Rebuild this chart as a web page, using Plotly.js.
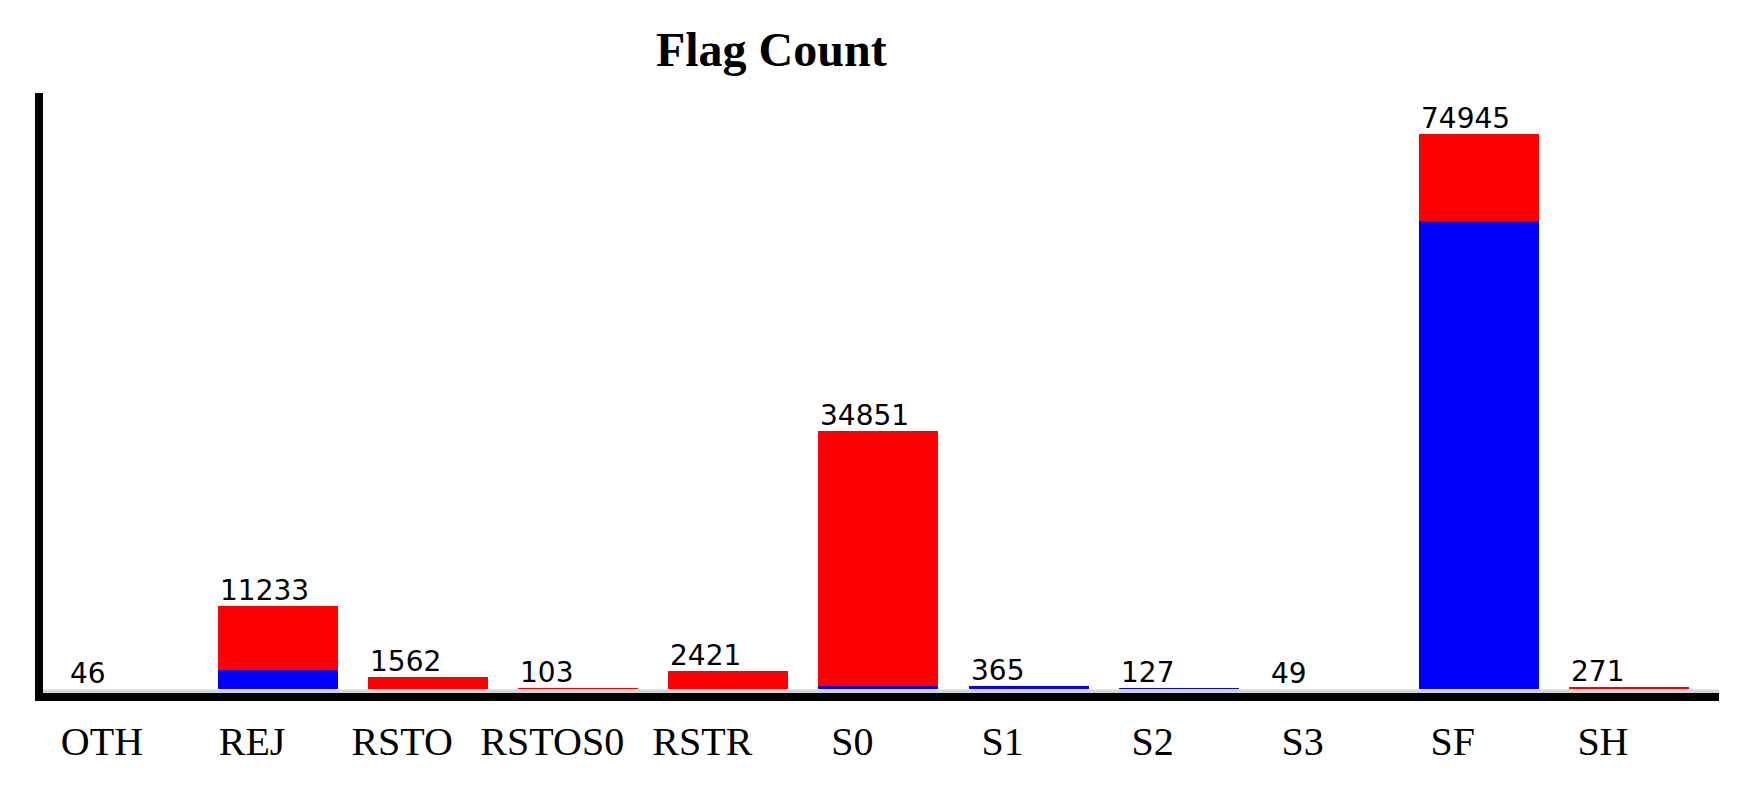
<!DOCTYPE html>
<html><head><meta charset="utf-8">
<script src="https://cdn.plot.ly/plotly-3.0.1.min.js"></script>
<style>html,body{margin:0;padding:0;background:#fff}#chart{width:1749px;height:786px}</style>
</head><body><div id="chart"></div>
<script>
// Data (blue = lower segment, red = upper segment)
const flags = ['OTH', 'REJ', 'RSTO', 'RSTOS0', 'RSTR', 'S0', 'S1', 'S2', 'S3', 'SF', 'SH'];
const blueCounts = [11, 2500, 0, 0, 0, 450, 365, 120, 49, 63240, 0];
const redCounts  = [35, 8733, 1562, 103, 2421, 34401, 0, 7, 0, 11705, 271];
const totalLabels = [46, 11233, 1562, 103, 2421, 34851, 365, 127, 49, 74945, 271];

const BAR_W = 0.8;

const traces = [
  {type: 'bar', x: flags, y: blueCounts, name: 'blue', marker: {color: '#0000ff', line: {width: 0}}, width: BAR_W, hoverinfo: 'x+y'},
  {type: 'bar', x: flags, y: redCounts, name: 'red', marker: {color: '#ff0000', line: {width: 0}}, width: BAR_W, hoverinfo: 'x+y'}
];

const annotations = totalLabels.map((t, i) => ({
  x: i - BAR_W / 2, y: t, xref: 'x', yref: 'y', yshift: -3,
  text: String(t), showarrow: false, xanchor: 'left', yanchor: 'bottom',
  font: {family: 'DejaVu Sans', size: 28, color: '#000'}
}));

const layout = {
  width: 1749, height: 786,
  margin: {l: 43, r: 30, t: 93, b: 93},
  paper_bgcolor: '#fff', plot_bgcolor: '#fff',
  showlegend: false,
  barmode: 'stack',
  title: {text: '<b>Flag Count</b>', font: {family: 'Liberation Serif', size: 48, color: '#000'},
          x: 0.441, xanchor: 'center', y: 0.938, yanchor: 'middle'},
  xaxis: {type: 'category', range: [-0.566, 10.6], showline: true, linecolor: '#000', linewidth: 8,
          ticks: '', showgrid: false, zeroline: false,
          tickfont: {family: 'Liberation Serif', size: 40, color: '#000'}, ticklabelshift: -26,
          ticklabelstandoff: 6},
  yaxis: {range: [-540, 80480], showline: true, linecolor: '#000', linewidth: 8,
          ticks: '', showticklabels: false, showgrid: false, zeroline: false},
  shapes: [{type: 'rect', xref: 'paper', yref: 'paper', x0: 0, x1: 1, y0: 0, y1: 0.006,
            fillcolor: '#d3d7db', line: {width: 0}, layer: 'below'}],
  annotations: annotations
};

Plotly.newPlot('chart', traces, layout, {displayModeBar: false, staticPlot: true});
</script>
</body></html>
